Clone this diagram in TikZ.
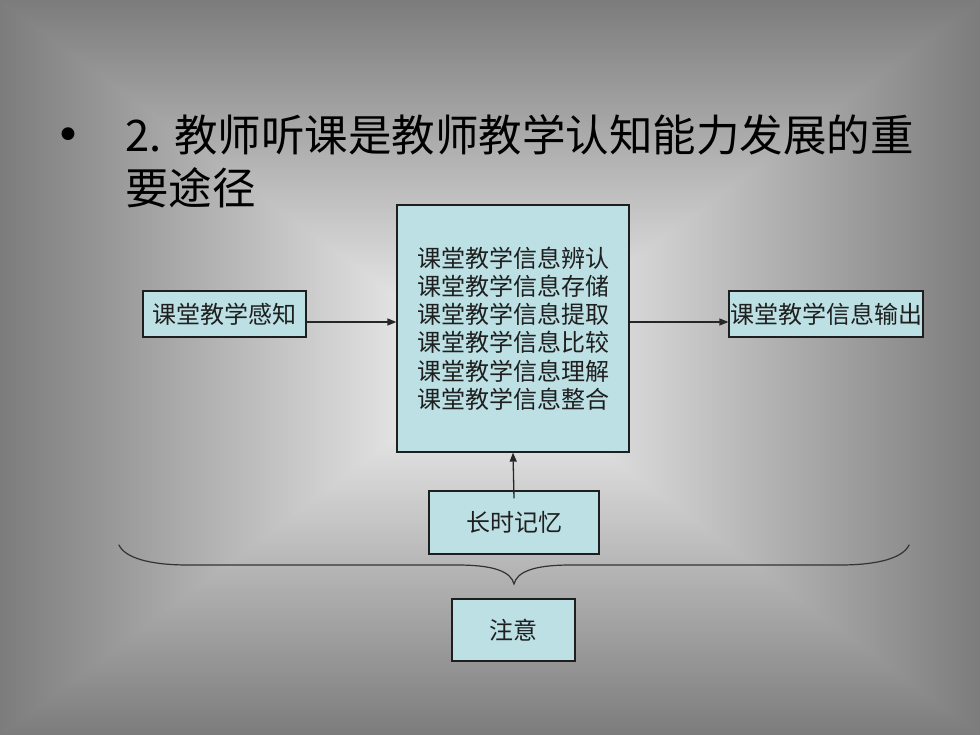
\documentclass[tikz,border=0pt]{standalone}
\usepackage{fontspec}
\setmainfont{Noto Sans CJK SC}
\newfontfamily\djv{DejaVu Sans}
\usetikzlibrary{arrows.meta,calc}
\definecolor{edgegray}{RGB}{124,124,124}
\definecolor{centerwhite}{RGB}{250,250,250}
\definecolor{midgray}{RGB}{203,203,203}
\definecolor{boxfill}{RGB}{188,224,228}
\definecolor{boxline}{RGB}{30,30,30}
\tikzset{
  infobox/.style={draw=boxline, fill=boxfill, line width=1.2pt, inner sep=0pt,
    font=\fontsize{24}{28.2}\selectfont, text=black!88, align=center},
  conn/.style={line width=1.3pt, draw=black!85, -{Triangle[length=9pt,width=7pt]}},
  bracestyle/.style={line width=1.2pt, draw=black!80, line cap=round}
}
\begin{document}
\begin{tikzpicture}[x=1pt,y=-1pt]
\useasboundingbox (0,0) rectangle (980,735);
% background: rectangular path gradient
\coordinate (c) at (490,367);
\shade[top color=edgegray, middle color=midgray, bottom color=centerwhite] (0,0) rectangle (980,367);
\shade[top color=centerwhite, middle color=midgray, bottom color=edgegray] (0,367) rectangle (980,735);
\shade[left color=edgegray, middle color=midgray, right color=centerwhite] (0,0) -- (0,735) -- (c) -- cycle;
\shade[left color=centerwhite, middle color=midgray, right color=edgegray] (980,0) -- (980,735) -- (c) -- cycle;
% title
\node[font=\djv\fontsize{44}{44}\selectfont, inner sep=0pt] (bullet) at (68,139) {•};
\node[anchor=base west, inner sep=0pt, font=\fontsize{43.5}{53}\selectfont, align=left] (title) at (125,204.5)
  {2. 教师听课是教师教学认知能力发展的重\\要途径};
% boxes
\node[infobox, minimum width=163pt, minimum height=46pt] (perc) at (224.5,314) {课堂教学感知};
\node[infobox, minimum width=232pt, minimum height=247pt] (big) at (513,328.5)
  {课堂教学信息辨认\\课堂教学信息存储\\课堂教学信息提取\\课堂教学信息比较\\课堂教学信息理解\\课堂教学信息整合};
\node[infobox, minimum width=194pt, minimum height=46pt] (out) at (826,314) {课堂教学信息输出};
\node[infobox, minimum width=170pt, minimum height=63pt] (ltm) at (514,522.5) {长时记忆};
\node[infobox, minimum width=123pt, minimum height=62pt] (att) at (513.5,630) {注意};
% connectors
\coordinate (ay) at (0,322);
\draw[conn] (perc.east |- ay) -- (big.west |- ay);
\draw[conn] (big.east |- ay) -- (out.west |- ay);
\draw[conn] ($(ltm.north)+(0,8)$) -- (big.south);
% brace
\draw[bracestyle] (119,545) .. controls (125,558) and (150,565) .. (188,565) -- (457,565)
  .. controls (495,565) and (511,572) .. (514,584)
  .. controls (517,572) and (533,565) .. (571,565) -- (840,565)
  .. controls (878,565) and (903,558) .. (909,545);
\end{tikzpicture}
\end{document}
